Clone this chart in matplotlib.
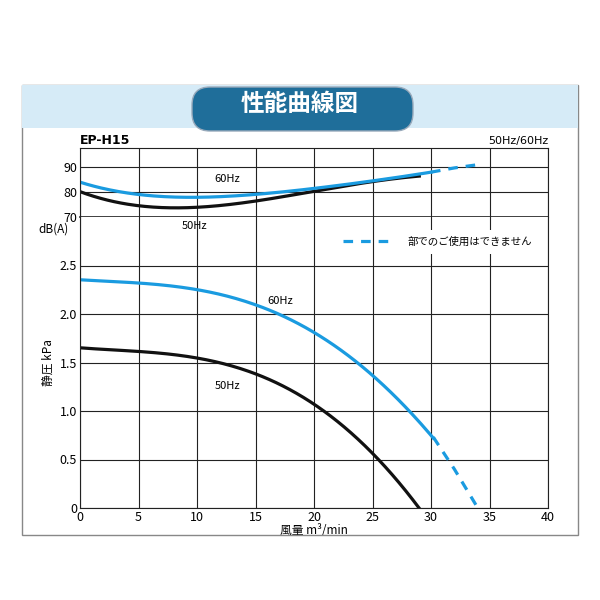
import matplotlib
matplotlib.use("Agg")
import matplotlib.pyplot as plt
from matplotlib.patches import Rectangle, FancyBboxPatch
import numpy as np

plt.rcParams['font.family'] = ['Noto Sans CJK JP', 'DejaVu Sans']

BLUE = '#1a9be0'
# noise dB(A)
db60_x = [0, 5, 10, 15, 20, 25, 30]
db60_y = [84, 79, 78, 79, 81.5, 84.5, 88]
db60d_x = [30, 32, 34]
db60d_y = [88, 89.7, 91]
db50_x = [0, 2.5, 5, 7.5, 10, 15, 20, 25, 29]
db50_y = [80, 77, 74.5, 73.5, 73.8, 76.5, 80.5, 84, 86.5]
# static pressure kPa
p60_x = [0, 5, 10, 15, 17, 20, 23.7, 25, 28, 30.2]
p60_y = [2.35, 2.33, 2.24, 2.09, 2.0, 1.82, 1.5, 1.37, 1.0, 0.73]
p60d_x = [30.2, 32, 34]
p60d_y = [0.73, 0.4, 0.0]
p50_x = [0, 5, 10, 15, 20, 21, 25, 27, 29]
p50_y = [1.65, 1.62, 1.54, 1.38, 1.07, 1.0, 0.55, 0.3, 0.0]

def smooth(x, y, n=200):
    x = np.array(x, float); y = np.array(y, float)
    xs = np.linspace(x[0], x[-1], n)
    c = np.polyfit(x, y, min(4, len(x) - 1))
    return xs, np.polyval(c, xs)

fig = plt.figure(figsize=(6, 6), dpi=100)
fig.patch.set_facecolor('white')
fig.add_artist(Rectangle((22/600, 1-535/600), 556/600, 450/600, transform=fig.transFigure,
                         fill=False, ec='#888888', lw=1))
fig.add_artist(Rectangle((22/600, 1-128/600), 556/600, 43/600, transform=fig.transFigure,
                         fc='#d6ebf7', ec='none'))
fig.add_artist(FancyBboxPatch((195/600, 1-128/600), 215/600, 38/600, transform=fig.transFigure,
                              boxstyle='round,pad=0.005,rounding_size=0.03', fc='#1f6e9a', ec='#9ab'))
fig.text(0.5, 1-104/600, '性能曲線図', ha='center', va='center', color='white',
         fontsize=17, fontweight='bold')

axt = fig.add_axes([80/600, 1-217/600, 468/600, 69/600])
axb = fig.add_axes([80/600, 1-508/600, 468/600, 291/600])

for ax in (axt, axb):
    ax.set_xlim(0, 40)
    ax.set_xticks(range(0, 41, 5))
    ax.grid(True, color='#222222', lw=0.8)
    for s in ax.spines.values():
        s.set_color('#222222')
    ax.tick_params(length=0, labelsize=9, pad=2)

axt.set_ylim(70, 97.7)
axt.set_yticks([70, 80, 90])
axt.tick_params(labelbottom=False)
axt.spines['bottom'].set_linewidth(1.2)
axt.plot(*smooth(db50_x, db50_y), color='#111111', lw=2.3)
axt.plot(*smooth(db60_x, db60_y), color=BLUE, lw=2.3)
axt.plot(db60d_x, db60d_y, color=BLUE, lw=2.3, ls=(0, (3, 2.5)))
axt.text(11.5, 84, '60Hz', fontsize=8)
axt.text(0, 99.5, 'EP-H15', fontsize=9, fontweight='bold', family='DejaVu Sans')
axt.text(40, 99.5, '50Hz/60Hz', fontsize=8, ha='right', family='DejaVu Sans')

axb.set_ylim(0, 3.0)
axb.set_yticks([0, 0.5, 1.0, 1.5, 2.0, 2.5])
axb.set_yticklabels(['0', '0.5', '1.0', '1.5', '2.0', '2.5'])
axb.spines['top'].set_visible(False)
axb.plot(*smooth(p50_x, p50_y), color='#111111', lw=2.3)
axb.plot(*smooth(p60_x, p60_y), color=BLUE, lw=2.3)
axb.plot(p60d_x, p60d_y, color=BLUE, lw=2.3, ls=(0, (3, 2.5)))
axb.text(8.7, 2.91, '50Hz', fontsize=8, va='center')
axb.text(-1, 2.88, 'dB(A)', fontsize=8.5, ha='right', va='center', clip_on=False)
axb.text(16, 2.1, '60Hz', fontsize=8)
axb.text(11.5, 1.23, '50Hz', fontsize=8)
axb.plot([22.5, 26.8], [2.75, 2.75], color=BLUE, lw=2.3, ls=(0, (3, 2.5)))
axb.add_patch(Rectangle((27.5, 2.62), 12, 0.25, fc='white', ec='none', zorder=2))
axb.text(28, 2.75, '部でのご使用はできません', fontsize=7.5, va='center', zorder=3)
axb.set_xlabel('風量 m³/min', fontsize=8.5, labelpad=0)
axb.set_ylabel('静圧 kPa', fontsize=8.5, labelpad=4)

fig.savefig('out.png', dpi=100, facecolor='white')
